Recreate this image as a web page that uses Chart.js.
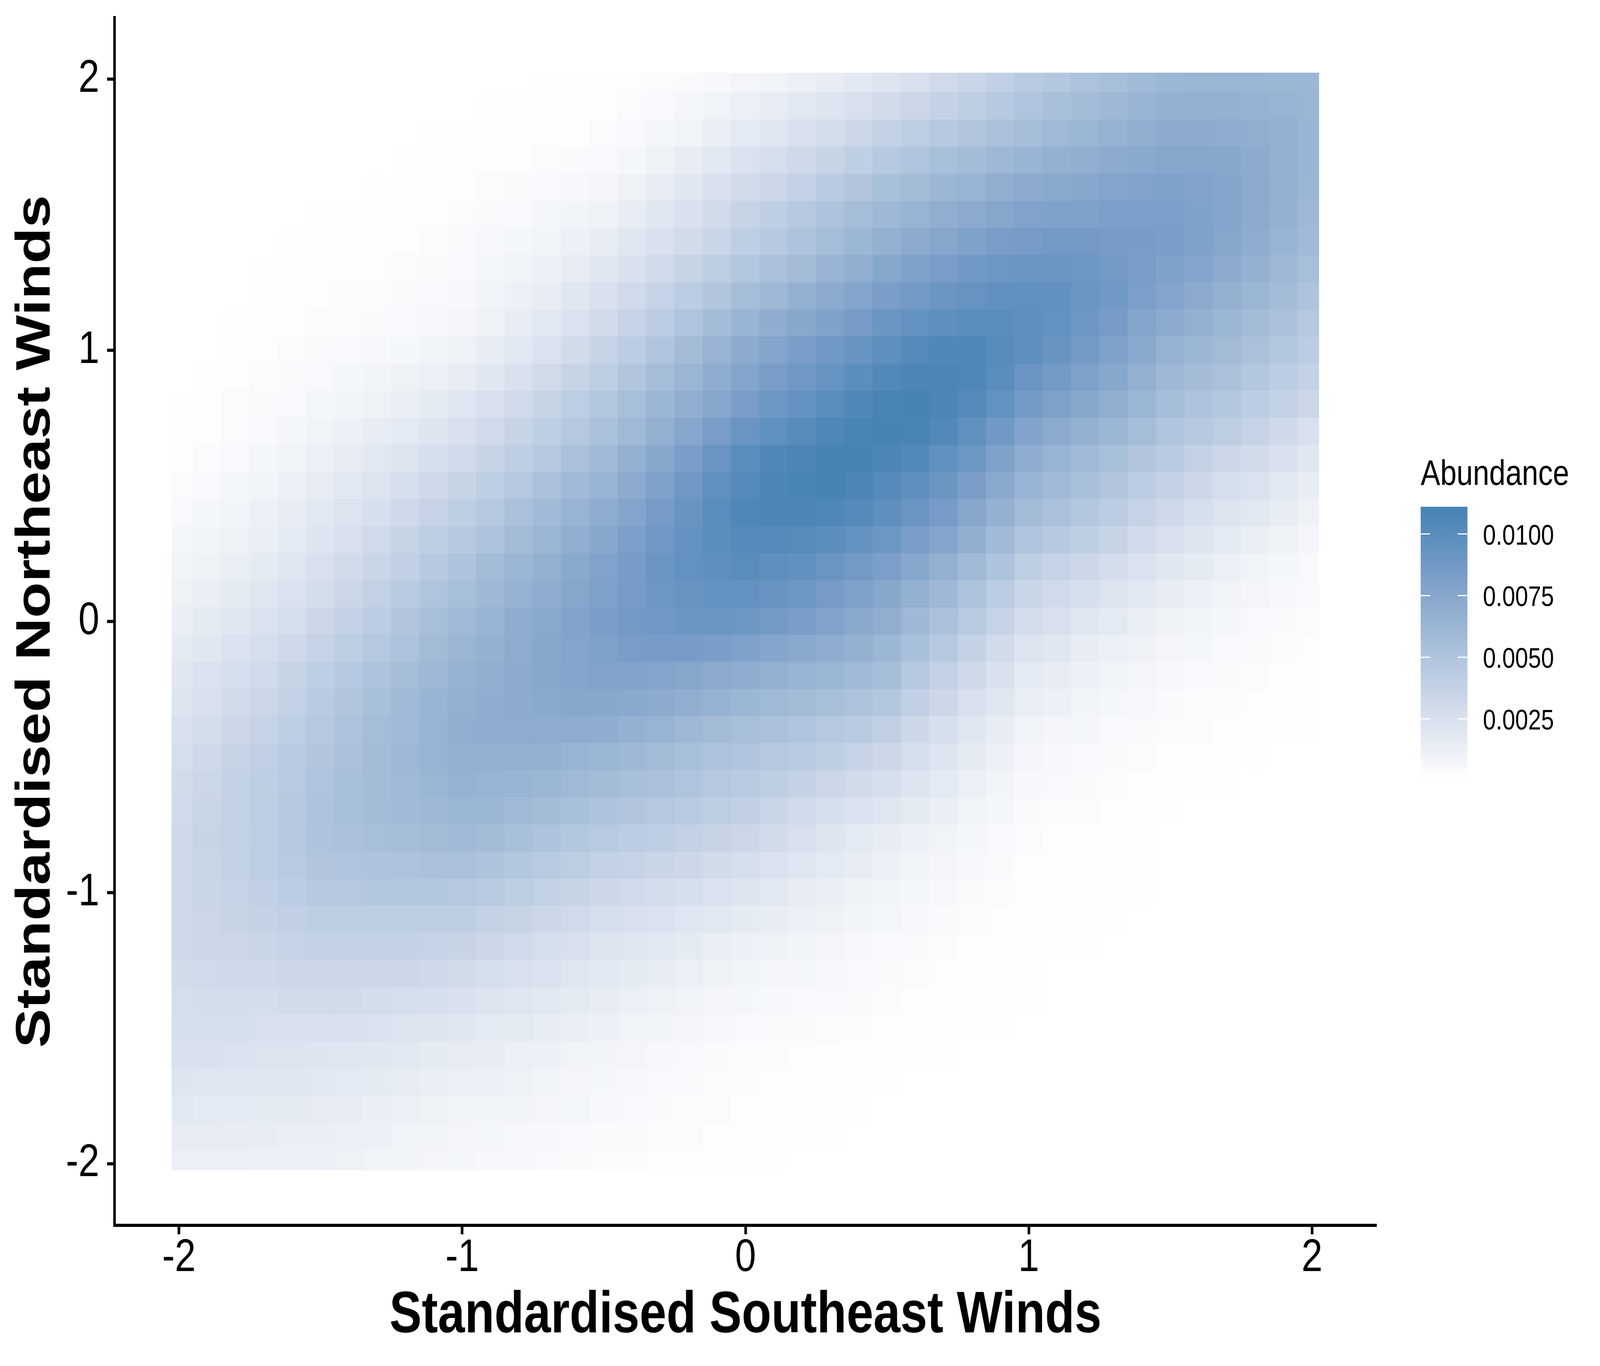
<!DOCTYPE html>
<html>
<head>
<meta charset="utf-8">
<title>Abundance by wind</title>
<script src="https://cdn.jsdelivr.net/npm/chart.js@4/dist/chart.umd.js"></script>
<style>
  html, body { margin: 0; padding: 0; background: #fff; overflow: hidden; }
  canvas { display: block; }
</style>
</head>
<body>
<canvas id="heat" width="4960" height="3496" style="width:100vw;height:100vh"></canvas>
<script>
const xTicks = [-2, -1, 0, 1, 2];
const yTicks = [-2, -1, 0, 1, 2];
const legendTicks = [0.01, 0.0075, 0.005, 0.0025];

const gridX = [-2,-1.9,-1.8,-1.7,-1.6,-1.5,-1.4,-1.3,-1.2,-1.1,-1,-0.9,-0.8,-0.7,-0.6,-0.5,-0.4,-0.3,-0.2,-0.1,0,
  0.1,0.2,0.3,0.4,0.5,0.6,0.7,0.8,0.9,1,1.1,1.2,1.3,1.4,1.5,1.6,1.7,1.8,1.9,2];
const gridY = [2,1.9,1.8,1.7,1.6,1.5,1.4,1.3,1.2,1.1,1,0.9,0.8,0.7,0.6,0.5,0.4,0.3,0.2,0.1,0,
  -0.1,-0.2,-0.3,-0.4,-0.5,-0.6,-0.7,-0.8,-0.9,-1,-1.1,-1.2,-1.3,-1.4,-1.5,-1.6,-1.7,-1.8,-1.9,-2];

// abundance, in units of 0.0001, top row first
const abundance = [
[0,0,0,0,0,0,0,0,0,0,0,0,0,1,1,1,2,3,4,6,8,10,13,15,19,22,26,31,35,40,45,48,52,55,59,62,63,63,63,62,62],
[0,0,0,0,0,0,0,0,0,0,0,1,1,1,2,2,3,5,7,10,13,16,19,22,26,30,34,38,42,46,50,54,57,61,64,67,67,67,66,65,63],
[0,0,0,0,0,0,0,0,0,1,1,1,1,2,2,3,5,7,10,14,18,21,25,29,33,38,42,46,49,53,56,60,63,66,69,72,72,71,69,67,64],
[0,0,0,0,0,0,0,0,1,1,2,2,2,3,4,5,7,11,15,19,24,28,32,36,41,46,50,54,57,61,64,67,69,72,74,76,76,75,72,68,64],
[0,0,0,0,0,0,0,1,1,2,2,3,4,5,6,8,11,15,20,25,30,34,39,44,49,54,58,62,65,69,72,74,76,78,79,80,79,77,73,68,63],
[0,0,0,0,0,1,1,1,2,2,3,4,5,7,9,11,15,20,25,30,36,41,46,51,56,61,65,69,73,76,79,80,81,82,82,82,80,77,73,67,61],
[0,0,0,0,1,1,1,2,2,3,4,6,7,9,12,15,20,25,30,35,41,46,51,56,62,67,72,76,80,84,86,87,87,86,85,83,80,76,71,65,59],
[0,0,0,1,1,2,2,2,3,4,5,7,10,12,16,20,25,31,36,42,48,53,58,64,69,75,80,84,88,90,92,92,90,87,84,80,77,72,67,61,55],
[0,0,0,1,1,2,3,3,4,5,6,9,12,15,20,25,31,37,43,49,56,61,67,72,78,83,87,91,94,96,97,96,92,88,82,77,73,68,63,57,51],
[0,0,1,1,2,3,3,4,5,6,8,11,15,19,24,30,37,43,50,57,64,70,75,80,86,91,95,98,100,100,98,95,90,85,78,72,68,63,58,53,47],
[0,0,1,2,3,4,5,6,7,9,11,15,19,24,30,36,43,50,57,65,72,78,83,88,93,98,103,105,105,102,98,93,87,81,74,66,62,58,53,48,43],
[0,1,2,3,4,5,7,9,11,13,16,20,25,30,36,42,49,56,63,70,78,84,89,94,99,104,107,108,106,100,92,87,81,75,68,61,57,53,48,43,38],
[1,2,3,4,5,7,9,11,14,17,21,26,31,36,42,48,55,62,69,76,84,90,95,100,105,109,110,108,103,95,87,81,75,69,63,56,52,48,43,38,33],
[1,2,3,5,7,10,12,15,18,22,26,31,36,41,47,53,60,68,76,84,92,97,102,106,109,110,109,104,97,88,79,73,68,62,56,50,46,42,37,32,26],
[1,3,5,7,10,13,16,19,23,27,31,36,41,47,53,59,67,75,83,92,100,105,108,110,110,108,104,97,90,80,71,65,60,55,49,44,39,34,30,25,20],
[3,5,7,9,13,16,19,23,27,32,36,41,47,53,59,65,73,81,89,97,103,107,109,110,108,103,98,91,83,74,65,59,54,49,43,38,33,28,24,19,15],
[5,7,9,12,15,19,23,27,32,37,41,47,53,59,65,71,78,86,93,100,106,108,108,106,103,98,92,85,76,67,58,53,48,43,37,32,27,23,19,15,11],
[7,9,11,14,18,22,26,31,36,41,46,52,58,63,69,75,82,89,95,100,103,103,102,99,95,90,84,77,69,59,50,46,41,36,31,26,22,18,14,11,8],
[9,11,14,17,21,26,30,35,40,46,51,57,62,68,74,79,85,91,95,98,100,98,96,92,87,82,75,68,60,51,42,37,33,29,24,20,17,13,10,7,5],
[11,14,17,20,24,29,34,39,44,50,55,61,66,71,76,81,86,90,93,95,95,93,90,86,81,75,68,61,52,43,35,31,27,23,19,15,12,10,8,6,4],
[14,17,20,24,28,33,38,43,49,55,60,65,70,74,79,83,87,89,91,91,90,87,84,79,74,69,61,53,45,37,29,25,21,18,14,11,9,7,5,4,3],
[17,20,24,28,32,37,42,47,52,58,63,67,71,75,78,81,84,85,85,83,80,77,74,71,67,62,54,46,38,30,23,20,16,13,11,8,7,5,4,3,2],
[20,24,27,31,36,41,46,51,56,61,66,69,72,75,77,79,79,78,76,73,70,68,65,63,60,56,47,39,32,25,18,15,12,10,8,6,5,4,3,2,1],
[22,26,30,34,39,44,49,54,59,64,68,70,72,74,75,75,74,72,69,66,62,60,58,55,52,48,40,33,26,20,14,12,9,7,6,4,3,3,2,2,1],
[25,29,33,37,42,47,52,56,60,65,69,70,71,71,71,70,67,65,61,58,55,53,50,47,44,40,33,27,21,15,10,8,7,5,4,3,3,2,2,1,1],
[28,32,36,40,44,49,53,57,61,65,68,68,68,67,65,63,61,58,55,52,50,47,44,41,37,33,28,22,17,12,8,6,5,4,3,2,2,1,1,0,0],
[30,34,38,41,45,50,54,57,60,63,66,65,64,62,60,57,55,53,50,47,45,41,38,34,30,27,22,18,13,9,6,5,4,3,2,1,1,1,0,0,0],
[31,35,38,42,46,51,54,57,59,61,63,62,60,57,54,51,49,47,45,42,40,35,31,28,24,21,17,14,10,7,4,3,3,2,1,1,0,0,0,0,0],
[32,36,39,42,47,51,53,55,56,58,59,57,54,51,48,45,43,41,39,36,34,30,26,22,18,15,12,10,7,5,3,2,2,1,1,0,0,0,0,0,0],
[32,35,38,42,45,49,50,51,52,53,53,51,48,45,42,39,37,35,33,30,28,24,21,18,15,12,10,8,6,4,2,2,1,1,1,0,0,0,0,0,0],
[32,35,37,40,43,46,47,48,48,48,47,45,42,39,36,33,31,29,27,24,22,19,16,14,11,9,7,6,4,3,2,1,1,1,1,0,0,0,0,0,0],
[32,34,36,38,40,42,42,42,42,42,41,38,36,33,31,28,26,24,21,19,17,15,13,11,9,7,6,4,3,2,1,1,1,1,0,0,0,0,0,0,0],
[32,33,34,35,37,38,38,38,38,37,36,33,31,28,26,23,21,19,17,14,12,11,9,8,6,5,4,3,2,2,1,1,1,0,0,0,0,0,0,0,0],
[30,31,32,32,33,34,34,33,33,32,30,28,26,24,21,19,17,15,13,11,9,8,7,6,5,4,3,2,2,1,1,0,0,0,0,0,0,0,0,0,0],
[28,29,29,29,30,30,30,29,28,27,25,23,21,19,17,15,13,11,10,8,7,6,5,5,4,3,2,2,1,1,1,0,0,0,0,0,0,0,0,0,0],
[27,27,27,26,26,26,25,24,23,22,20,18,17,15,14,12,10,9,8,6,5,4,4,3,3,2,2,1,1,1,0,0,0,0,0,0,0,0,0,0,0],
[25,25,24,23,23,22,21,20,19,17,16,15,13,12,10,9,8,6,5,4,3,3,2,2,1,1,1,1,0,0,0,0,0,0,0,0,0,0,0,0,0],
[22,21,21,20,20,19,18,17,16,14,13,12,11,9,8,7,6,5,4,3,3,2,2,1,1,1,0,0,0,0,0,0,0,0,0,0,0,0,0,0,0],
[19,18,18,17,17,16,15,14,13,11,10,9,9,8,7,6,5,4,3,3,2,2,1,1,1,0,0,0,0,0,0,0,0,0,0,0,0,0,0,0,0],
[16,16,15,15,14,14,13,12,10,9,8,7,6,6,5,4,4,3,3,2,2,1,1,1,0,0,0,0,0,0,0,0,0,0,0,0,0,0,0,0,0],
[13,13,13,12,12,12,11,10,9,8,7,6,6,5,4,3,3,2,2,1,1,1,0,0,0,0,0,0,0,0,0,0,0,0,0,0,0,0,0,0,0]
];

// white to steelblue as it reads on the legend bar
const rampStops = [[255,255,255],[213,222,236],[167,190,217],[122,158,200],[70,130,180]];
const abundanceMax = 111;

const fontName = "'Liberation Sans', Arial, sans-serif";

function rampColor(v) {
    const t = Math.min(Math.max(v / abundanceMax, 0), 1) * (rampStops.length - 1);
    const i = Math.min(Math.floor(t), rampStops.length - 2);
    const f = t - i;
    const c = [0, 1, 2].map(k => Math.round(rampStops[i][k] + (rampStops[i + 1][k] - rampStops[i][k]) * f));
    return `rgb(${c[0]},${c[1]},${c[2]})`;
}

const cells = [];
abundance.forEach((row, r) => {
    row.forEach((v, c) => {
        cells.push({ x: gridX[c], y: [gridY[r] - 0.05, gridY[r] + 0.05], v });
    });
});

// colour bar and its labels, to the right of the panel
const legendBar = {
    id: "legendBar",
    afterDraw(chart) {
        const ctx = chart.ctx;
        const left = 4404, width = 145, top = 1297, bottom = 1996;
        const yFor = v => 1366.5 + (0.01 - v) / 0.0025 * 157.8;
        ctx.save();
        for (let y = top; y < bottom; y += 4) {
            const v = (0.01 - (y - 1366.5) / 157.8 * 0.0025) * 10000;
            ctx.fillStyle = rampColor(v);
            ctx.fillRect(left, y, width, 5);
        }
        ctx.fillStyle = "#fff";
        legendTicks.forEach(v => {
            ctx.fillRect(left, yFor(v) - 1.5, 29, 3);
            ctx.fillRect(left + width - 30, yFor(v) - 1.5, 29, 3);
        });
        ctx.fillStyle = "#000";
        ctx.textAlign = "left";
        ctx.textBaseline = "alphabetic";
        ctx.font = `91px ${fontName}`;
        ctx.fillText("Abundance", 4404, 1241);
        ctx.font = `72px ${fontName}`;
        legendTicks.forEach(v => ctx.fillText(v.toFixed(4), 4597, yFor(v) + 27));
        ctx.restore();
    }
};

const axisCommon = {
    type: "linear",
    min: -2.2275,
    max: 2.2275,
    offset: false,
    border: { display: true, color: "#000", width: 8 },
    grid: { drawOnChartArea: false, drawTicks: true, tickLength: 23, tickWidth: 8, tickColor: "#000", offset: false }
};

new Chart(document.getElementById("heat"), {
    type: "bar",
    data: {
        datasets: [{
            data: cells,
            backgroundColor: ctx => rampColor(ctx.raw.v),
            borderWidth: 0,
            inflateAmount: 1,
            barPercentage: 1,
            categoryPercentage: 1,
            clip: { left: -177, right: -178, top: -141, bottom: -141 }
        }]
    },
    plugins: [legendBar],
    options: {
        responsive: false,
        devicePixelRatio: 1,
        animation: false,
        events: [],
        layout: { padding: { top: 45, right: 693, left: 0, bottom: 0 } },
        plugins: { legend: { display: false }, tooltip: { enabled: false }, title: { display: false } },
        scales: {
            x: {
                ...axisCommon,
                afterBuildTicks: s => { s.ticks = xTicks.map(value => ({ value })); },
                afterFit: s => { s.height = 360; s.paddingLeft = 0; s.paddingRight = 0; },
                ticks: { color: "#000", padding: 3, autoSkip: false, maxRotation: 0, font: { family: fontName, size: 117, lineHeight: 1 }, callback: v => String(v) },
                title: { display: true, text: "Standardised Southeast Winds", color: "#000", padding: { top: 0, bottom: 52 }, font: { family: fontName, size: 150, weight: "bold", lineHeight: 1 } }
            },
            y: {
                ...axisCommon,
                afterBuildTicks: s => { s.ticks = yTicks.map(value => ({ value })); },
                afterFit: s => { s.width = 355; s.paddingTop = 0; s.paddingBottom = 0; },
                ticks: { color: "#000", padding: 24, autoSkip: false, font: { family: fontName, size: 117, lineHeight: 1 }, callback: v => String(v) },
                title: { display: true, text: "Standardised Northeast Winds", color: "#000", padding: { top: 38, bottom: 0 }, font: { family: fontName, size: 150, weight: "bold", lineHeight: 1 } }
            }
        }
    }
});
</script>
</body>
</html>
